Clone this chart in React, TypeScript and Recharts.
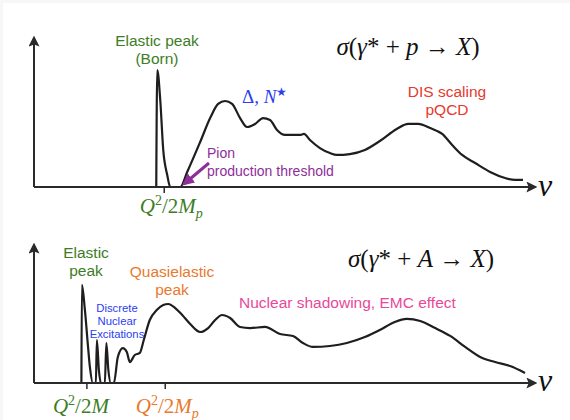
import React from 'react';
import { Line, LineChart, XAxis, YAxis } from 'recharts';

// Schematic cross section vs energy transfer nu (arbitrary units 0-100).
const protonNu = [
  24.5, 24.7, 25.3, 25.9, 26.7, 27.3, 29.3, 30.7, 33.3, 35.3, 36.9, 38.3, 39.7, 41.3, 42.7, 44.3, 45.9,
  47.3, 48.7, 50.3, 51.9, 53.3, 54.1, 55.3, 57.3, 59.3, 60.7, 63.3, 66.3, 69.3, 72.7, 75.0, 77.0, 79.4,
  81.8, 83.8, 85.8, 88.4, 91.4, 94.4, 96.4, 98.0,
];
const protonSigma = [
  0, 79.6, 59.2, 25.2, 8.2, 0, 0, 10.2, 30.6, 46.9, 56.5, 58.5, 56.5, 46.9, 40.8, 42.9, 46.9, 45.6, 38.8,
  35.4, 35.4, 35.4, 36.1, 32.0, 26.5, 23.1, 21.8, 22.4, 25.2, 31.3, 39.5, 42.9, 42.9, 40.1, 36.1, 28.6,
  21.8, 16.3, 10.2, 6.1, 4.8, 4.8,
];

const nucleusNu = [
  9.5, 9.6, 10.2, 10.8, 11.2, 11.8, 12.4, 12.6, 13.0, 13.4, 14.2, 14.5, 14.9, 15.4, 16.0, 16.8, 17.8,
  18.6, 19.2, 20.2, 21.2, 22.0, 23.2, 24.6, 25.9, 26.9, 28.3, 29.7, 31.3, 33.3, 34.9, 36.3, 37.7, 39.3,
  41.3, 43.3, 46.3, 49.3, 51.9, 53.9, 55.9, 59.3, 62.7, 66.3, 69.3, 72.3, 74.7, 77.4, 80.4, 83.4, 86.4,
  89.4, 92.4, 95.4, 98.4,
];
const nucleusSigma = [
  0, 72.1, 53.7, 27.9, 11.8, 0, 0, 31.6, 9.6, 0, 0, 29.4, 9.6, 0, 0, 19.1, 25.7, 22.8, 15.4, 20.6, 22.1,
  31.6, 46.3, 53.7, 57.4, 58.1, 55.1, 50.0, 43.4, 37.5, 40.4, 46.3, 50.0, 47.8, 41.2, 40.4, 41.2, 36.0,
  34.6, 29.4, 26.5, 27.2, 29.4, 33.8, 39.0, 44.9, 47.1, 45.6, 40.4, 34.6, 26.5, 19.1, 15.4, 12.5, 7.4,
];

const protonTicks = [26.1];
const nucleusTicks = [10.6, 26.3];
const tickLabels: Record<number, { sub: boolean; color: string; dx: number; dy: number }> = {
  26.1: { sub: true, color: '#3d7d26', dx: 7, dy: 18 },
  10.6: { sub: false, color: '#3d7d26', dx: -6, dy: 22 },
  26.3: { sub: true, color: '#e8792e', dx: 2, dy: 22 },
};

const protonData = protonNu.map((nu, i) => ({ nu, sigma: protonSigma[i] }));
const nucleusData = nucleusNu.map((nu, i) => ({ nu, sigma: nucleusSigma[i] }));

const SERIF = '"Liberation Serif", "DejaVu Serif", serif';
const SANS = '"Liberation Sans", Arial, sans-serif';
const AXIS = '#2a2a2a';

function QTick({ x, y, payload }: any) {
  const t = tickLabels[payload.value];
  if (!t) return null;
  return (
    <text x={x + t.dx} y={y + t.dy} textAnchor="middle" fontFamily={SERIF} fontSize={21} fill={t.color}>
      <tspan fontStyle="italic">Q</tspan>
      <tspan dy={-8} fontSize={14}>2</tspan>
      <tspan dy={8}>/2</tspan>
      <tspan fontStyle="italic">M</tspan>
      {t.sub && (
        <tspan dy={5} fontSize={14} fontStyle="italic">
          p
        </tspan>
      )}
    </text>
  );
}

function Panel({ data, ticks, height, margin }: any) {
  return (
    <LineChart width={570} height={height} data={data} margin={margin}>
      <XAxis
        type="number"
        dataKey="nu"
        domain={[0, 100]}
        ticks={ticks}
        height={30}
        tickSize={6}
        tickLine={{ stroke: AXIS, strokeWidth: 1.5 }}
        axisLine={{ stroke: AXIS, strokeWidth: 2, markerEnd: 'url(#arrowHead)' }}
        tick={<QTick />}
        interval={0}
      />
      <YAxis
        type="number"
        domain={[0, 100]}
        width={10}
        tick={false}
        tickLine={false}
        axisLine={{ stroke: AXIS, strokeWidth: 2, markerStart: 'url(#arrowHead)' }}
      />
      <Line
        type="monotone"
        dataKey="sigma"
        stroke="#1e1e1e"
        strokeWidth={2.2}
        dot={false}
        isAnimationActive={false}
      />
    </LineChart>
  );
}

export default function App() {
  return (
    <div style={{ position: 'fixed', left: 0, top: 0, width: 570, height: 420, background: '#f7f7f7' }}>
      <div style={{ position: 'absolute', left: 3, top: 3, width: 567, height: 417, background: '#fff' }} />
      <svg width={0} height={0} style={{ position: 'absolute' }}>
        <defs>
          <marker
            id="arrowHead"
            viewBox="0 0 10 10"
            refX="6"
            refY="5"
            markerWidth="5.5"
            markerHeight="5.5"
            orient="auto-start-reverse"
          >
            <path d="M0,0 L10,5 L0,10 L2,5 z" fill={AXIS} />
          </marker>
          <marker id="pionHead" viewBox="0 0 10 10" refX="8" refY="5" markerWidth="4" markerHeight="4" orient="auto">
            <path d="M0,0 L10,5 L0,10 z" fill="#8e2e99" />
          </marker>
        </defs>
      </svg>
      <div style={{ position: 'absolute', left: 0, top: 0 }}>
        <Panel data={protonData} ticks={protonTicks} height={240} margin={{ top: 40, right: 37, left: 24, bottom: 23 }} />
      </div>
      <div style={{ position: 'absolute', left: 0, top: 200 }}>
        <Panel data={nucleusData} ticks={nucleusTicks} height={220} margin={{ top: 47, right: 37, left: 24, bottom: 7 }} />
      </div>
      <svg width={570} height={420} style={{ position: 'absolute', left: 0, top: 0, pointerEvents: 'none' }}>
        {/* top panel annotations */}
        <g fontFamily={SANS} fontSize={15.5} fill="#3d7d26" textAnchor="middle">
          <text x={157} y={46}>Elastic peak</text>
          <text x={157} y={64}>(Born)</text>
        </g>
        <text x={408} y={55} fontFamily={SERIF} fontSize={25} fill="#111" textAnchor="middle">
          <tspan fontStyle="italic">σ</tspan>(<tspan fontStyle="italic">γ</tspan>* + <tspan fontStyle="italic">p</tspan> → <tspan fontStyle="italic">X</tspan>)
        </text>
        <text x={242} y={103} fontFamily={SERIF} fontSize={19} fill="#2a3df0">
          Δ, <tspan fontStyle="italic">N</tspan>
          <tspan dy={-7} fontSize={12}>★</tspan>
        </text>
        <g fontFamily={SANS} fontSize={15.5} fill="#e5392c" textAnchor="middle">
          <text x={447} y={97}>DIS scaling</text>
          <text x={447} y={115}>pQCD</text>
        </g>
        <g fontFamily={SANS} fontSize={14} fill="#8e2e99">
          <text x={207} y={158}>Pion</text>
          <text x={207} y={176}>production threshold</text>
        </g>
        <line x1={209} y1={163} x2={184} y2={184} stroke="#8e2e99" strokeWidth={3} markerEnd="url(#pionHead)" />
        <text x={538} y={196} fontFamily={SERIF} fontStyle="italic" fontSize={32} fill="#111">ν</text>

        {/* bottom panel annotations */}
        <g fontFamily={SANS} fontSize={15.5} fill="#3d7d26" textAnchor="middle">
          <text x={86} y={258}>Elastic</text>
          <text x={86} y={276}>peak</text>
        </g>
        <g fontFamily={SANS} fontSize={15.5} fill="#e8792e" textAnchor="middle">
          <text x={172} y={277}>Quasielastic</text>
          <text x={172} y={295}>peak</text>
        </g>
        <g fontFamily={SANS} fontSize={11.3} fill="#2a3df0" textAnchor="middle">
          <text x={117} y={312}>Discrete</text>
          <text x={117} y={325}>Nuclear</text>
          <text x={117} y={338}>Excitations</text>
        </g>
        <text x={239} y={308} fontFamily={SANS} fontSize={15.5} fill="#e8489a">
          Nuclear shadowing, EMC effect
        </text>
        <text x={421} y={267} fontFamily={SERIF} fontSize={25} fill="#111" textAnchor="middle">
          <tspan fontStyle="italic">σ</tspan>(<tspan fontStyle="italic">γ</tspan>* + <tspan fontStyle="italic">A</tspan> → <tspan fontStyle="italic">X</tspan>)
        </text>
        <text x={538} y={391} fontFamily={SERIF} fontStyle="italic" fontSize={32} fill="#111">ν</text>
      </svg>
    </div>
  );
}
